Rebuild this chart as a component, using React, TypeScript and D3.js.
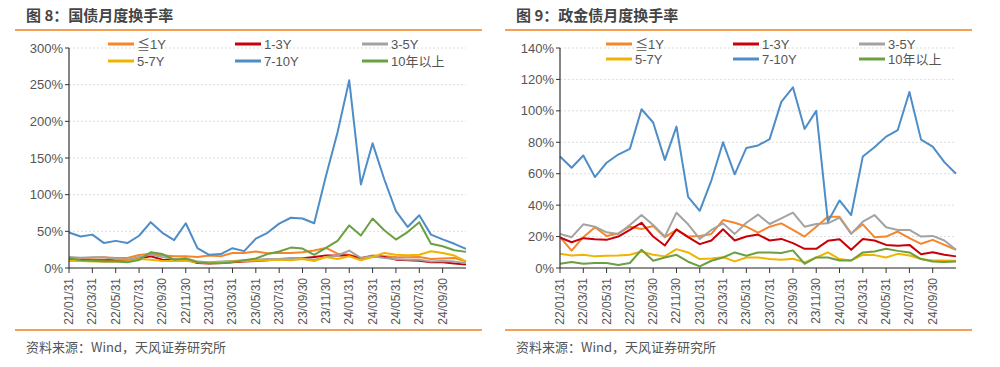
import * as d3 from "d3";

const dates = [
  "22/01/31", "22/02/28", "22/03/31", "22/04/30", "22/05/31", "22/06/30", "22/07/31", "22/08/31",
  "22/09/30", "22/10/31", "22/11/30", "22/12/31", "23/01/31", "23/02/28", "23/03/31", "23/04/30",
  "23/05/31", "23/06/30", "23/07/31", "23/08/31", "23/09/30", "23/10/31", "23/11/30", "23/12/31",
  "24/01/31", "24/02/29", "24/03/31", "24/04/30", "24/05/31", "24/06/30", "24/07/31", "24/08/31",
  "24/09/30", "24/10/31", "24/11/30",
];

const seriesNames = ["≦1Y", "1-3Y", "3-5Y", "5-7Y", "7-10Y", "10年以上"];
const seriesColors = ["#F5862B", "#C8000A", "#A3A3A3", "#F0B400", "#4E8DC8", "#6AA042"];

// 国债
const govLe1 = [12, 13, 14, 14.6, 13.7, 13.7, 17.8, 19.6, 17.4, 16, 16, 15, 17, 16, 20.5, 20.5, 22.4, 20, 20.5, 20.5, 21.5, 24, 27.4, 19.6, 18, 13.7, 17, 16, 15, 14.6, 15, 12.3, 13, 13.7, 9];
const gov1to3 = [10, 11, 10.5, 10.5, 11, 10.5, 13, 16, 11.4, 10.5, 11.4, 6.8, 6, 6.8, 7.8, 9, 9.6, 10.5, 12.3, 12.8, 13.2, 15, 17, 17, 17, 13.2, 16, 15, 11.4, 10.5, 10, 7.8, 7.8, 6, 4.6];
const gov3to5 = [15, 14, 14.6, 14.6, 12.3, 11.4, 15, 18.3, 15, 12.3, 13.2, 8.7, 7.8, 8.7, 9.6, 10.5, 11.4, 12.3, 12.3, 12.3, 12.8, 11.4, 15, 17, 23.7, 13.7, 16, 13.7, 12.3, 11.4, 11.4, 9, 9.6, 8.7, 6.8];
const gov5to7 = [9.6, 9.6, 8.7, 8.7, 9, 9, 12.3, 11.4, 9.6, 9.6, 10, 7.8, 6.8, 7.8, 8.7, 9.6, 10, 10.5, 11.4, 10.5, 12.3, 9.6, 15, 12.3, 16, 10.5, 15, 20.5, 18, 17.4, 18, 22.8, 20.5, 17, 9];
const gov7to10 = [48.5, 43, 45.5, 34, 37, 34, 44, 62.5, 48, 38, 61, 27, 18, 19, 27, 23, 40, 48, 60.5, 68.5, 67.5, 61, 125, 185, 256, 114, 170, 121, 77.5, 56, 72, 45.5, 39, 33, 26];
const govOver10 = [13.5, 10.5, 10, 9, 8.7, 7.8, 11, 21.5, 19, 11.4, 13, 8, 6.4, 6.4, 8, 10.5, 13, 19, 22.5, 27.8, 26.5, 18, 27.4, 37, 58, 44.3, 67.5, 51.5, 38.8, 49, 62.5, 33, 29.7, 24.2, 22];

// 政金债
const pfLe1 = [19.6, 11, 19.6, 26, 20.4, 22, 26.3, 24.8, 26.7, 19.6, 24.2, 20, 20.4, 21.7, 30.5, 28.8, 26.3, 22.5, 26.3, 28.4, 24.2, 20, 26.3, 32.6, 32.6, 22, 27.8, 19.6, 20, 23.2, 19, 15.4, 17.9, 14.7, 11.6];
const pf1to3 = [19.4, 16.4, 19, 18.3, 17.9, 20, 24.2, 28.8, 20, 14.3, 24.6, 19.6, 15.2, 17.5, 24.6, 17.5, 20, 21.3, 17.5, 18.5, 15.8, 12.2, 12.2, 17.3, 18.3, 11.6, 18.5, 17.5, 14.7, 14.1, 14.7, 8.8, 10, 8.4, 7.4];
const pf3to5 = [21.7, 19.6, 27.8, 26.3, 22.7, 21.7, 27.4, 33.7, 27.4, 20, 35.2, 27.8, 18.5, 24.2, 28.4, 21.7, 28.8, 34, 28, 31.6, 35.2, 26.3, 28, 28.4, 32, 21.7, 29.5, 33.7, 25.9, 24.2, 24.2, 20, 20.4, 17.5, 11.6];
const pf5to7 = [9, 8, 8.4, 7.4, 7.8, 8, 8.4, 10.5, 8.4, 7.4, 12, 9.9, 5.7, 6.1, 6.9, 4.2, 6.7, 6.7, 5.7, 5.3, 5.9, 3.6, 6.7, 9.9, 5.7, 4.8, 8.4, 8.2, 6.7, 9, 8, 5.7, 4.8, 4.8, 4.6];
const pf7to10 = [71, 63.8, 71.6, 57.9, 67, 72.2, 75.8, 101, 92.6, 68.8, 90, 45.3, 36.4, 55.8, 80, 59.6, 76.4, 78, 82, 105.7, 115, 88.4, 100, 29.5, 43, 33.7, 71, 76.8, 83.6, 87.8, 112, 81.7, 77.3, 67.4, 60];
const pfOver10 = [2.7, 3.8, 2.7, 3.2, 3.2, 1.9, 3.2, 11.6, 4.6, 6.7, 8.4, 4, 1, 4.6, 6.7, 9.9, 7.8, 9.9, 9.9, 9.5, 11.2, 2.7, 6.7, 6.7, 4.8, 4.8, 9.9, 10.5, 12.2, 10.9, 9.9, 5.7, 4.2, 3.8, 4.2];

const govTicks = [0, 50, 100, 150, 200, 250, 300];
const pfTicks = [0, 20, 40, 60, 80, 100, 120, 140];

const FONT = "'Liberation Sans', Arial, 'Noto Sans CJK SC', sans-serif";
const CJK = "'Noto Sans CJK SC', 'Liberation Sans', sans-serif";
const TEXT = "#555";
const ORANGE = "#F0821E";

interface PanelProps {
  left: number;
  title: string;
  series: number[][];
  ticks: number[];
  x0: number;
  x1: number;
  legendX: number[];
  legendY: number[];
}

function Panel({ left, title, series, ticks, x0, x1, legendX, legendY }: PanelProps) {
  const yMax = ticks[ticks.length - 1];
  const x = d3.scalePoint<string>().domain(dates).range([x0, x1]);
  const y = d3.scaleLinear().domain([0, yMax]).range([268, 48]);
  const line = d3.line<number>()
    .x((_, i) => x(dates[i]) as number)
    .y(d => y(d));
  const tickDates = dates.filter((_, i) => i % 2 === 0 && i < 33);

  return (
    <g>
      <text x={left + 11} y={21} fontFamily={CJK} fontWeight="bold" fontSize={15} fill="#444">{title}</text>
      <line x1={left} x2={left + 467} y1={30} y2={30} stroke={ORANGE} strokeWidth={1.5} />

      {ticks.map(t => (
        <g key={t}>
          {t > 0 && (
            <line x1={x0} x2={x1} y1={y(t)} y2={y(t)} stroke="#d4d4d4" strokeWidth={0.8} strokeDasharray="2,2" />
          )}
          <line x1={x0 - 4} x2={x0} y1={y(t)} y2={y(t)} stroke="#333" />
          <text x={x0 - 6} y={y(t)} dy="0.35em" textAnchor="end" fontFamily={FONT} fontSize={13} fill={TEXT}>{t}%</text>
        </g>
      ))}

      {series.map((s, i) => (
        <path key={i} d={line(s) ?? ""} fill="none" stroke={seriesColors[i]} strokeWidth={2} strokeLinejoin="round" />
      ))}

      <line x1={x0} x2={x0} y1={y(yMax)} y2={y(0)} stroke="#333" strokeWidth={1.2} />
      <line x1={x0} x2={x1} y1={y(0)} y2={y(0)} stroke="#222" strokeWidth={1.2} />
      {tickDates.map(d => (
        <g key={d}>
          <line x1={x(d)} x2={x(d)} y1={268} y2={273} stroke="#333" />
          <text transform={`translate(${(x(d) as number) + 4},278) rotate(-90)`} textAnchor="end" fontFamily={FONT} fontSize={12} fill={TEXT}>{d}</text>
        </g>
      ))}

      {seriesNames.map((n, i) => {
        const lx = legendX[i % 3];
        const ly = legendY[Math.floor(i / 3)];
        return (
          <g key={n}>
            <line x1={lx} x2={lx + 26} y1={ly} y2={ly} stroke={seriesColors[i]} strokeWidth={3} />
            <text x={lx + 29} y={ly} dy="0.35em" fontFamily={FONT} fontSize={13} fill={TEXT}>{n}</text>
          </g>
        );
      })}

      <line x1={left} x2={left + 467} y1={330} y2={330} stroke={ORANGE} strokeWidth={1.5} />
      <text x={left + 11} y={352} fontFamily={CJK} fontSize={13} fill={TEXT}>资料来源：Wind，天风证券研究所</text>
    </g>
  );
}

export default function App() {
  const gov = [govLe1, gov1to3, gov3to5, gov5to7, gov7to10, govOver10];
  const pf = [pfLe1, pf1to3, pf3to5, pf5to7, pf7to10, pfOver10];
  return (
    <svg width={1000} height={367} style={{ position: "absolute", left: 0, top: 0, background: "#fff" }}>
      <rect width={1000} height={367} fill="#fff" />
      <Panel left={15} title="图 8：国债月度换手率" series={gov} ticks={govTicks} x0={69} x1={466}
        legendX={[108, 235, 362]} legendY={[44, 61]} />
      <Panel left={505} title="图 9：政金债月度换手率" series={pf} ticks={pfTicks} x0={560} x1={956}
        legendX={[606, 733, 859]} legendY={[44, 59]} />
    </svg>
  );
}
